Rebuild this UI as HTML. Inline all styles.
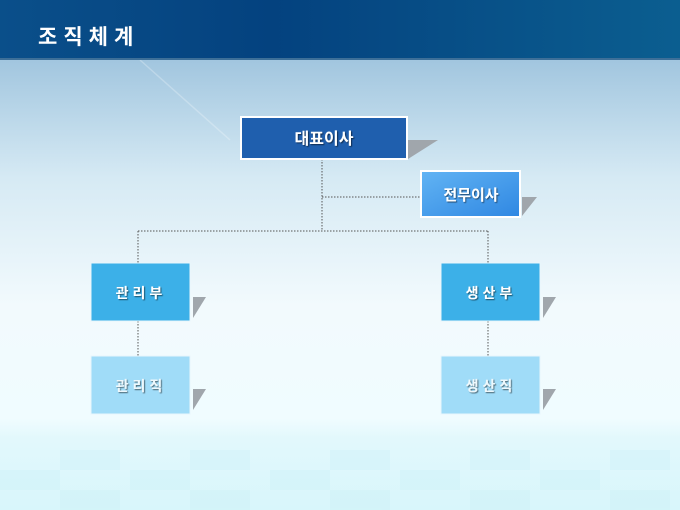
<!DOCTYPE html>
<html><head><meta charset="utf-8"><style>
html,body{margin:0;padding:0}
body{width:680px;height:510px;overflow:hidden;position:relative;font-family:"Liberation Sans","Noto Sans CJK KR",sans-serif}
</style></head><body>
<svg width="680" height="510" viewBox="0 0 680 510" xmlns="http://www.w3.org/2000/svg" style="position:absolute;left:0;top:0">
<defs>
<linearGradient id="bg" x1="0" y1="0" x2="0" y2="1">
<stop offset="0" stop-color="#86aed0"/>
<stop offset="0.12" stop-color="#a2c6df"/>
<stop offset="0.35" stop-color="#d6eaf4"/>
<stop offset="0.6" stop-color="#f2fafd"/>
<stop offset="0.82" stop-color="#f0fcff"/>
<stop offset="0.86" stop-color="#e2f8fc"/>
<stop offset="1" stop-color="#d8f6fb"/>
</linearGradient>
<linearGradient id="hd" x1="0" y1="0" x2="1" y2="0">
<stop offset="0" stop-color="#0a4f8a"/>
<stop offset="0.4" stop-color="#04427f"/>
<stop offset="1" stop-color="#0b5e90"/>
</linearGradient>
<linearGradient id="jm" x1="0" y1="0" x2="1" y2="1">
<stop offset="0" stop-color="#62b4f4"/>
<stop offset="1" stop-color="#2f87e2"/>
</linearGradient>
<filter id="ts"><feDropShadow dx="1" dy="1" stdDeviation="0.6" flood-color="#000" flood-opacity="0.55"/></filter>
</defs>
<rect width="680" height="510" fill="url(#bg)"/>
<g fill="#c8eef6" opacity="0.3">
<rect x="60" y="450" width="60" height="20"/><rect x="190" y="450" width="60" height="20"/><rect x="330" y="450" width="60" height="20"/><rect x="470" y="450" width="60" height="20"/><rect x="610" y="450" width="60" height="20"/>
<rect x="0" y="470" width="60" height="20"/><rect x="130" y="470" width="60" height="20"/><rect x="270" y="470" width="60" height="20"/><rect x="400" y="470" width="60" height="20"/><rect x="540" y="470" width="60" height="20"/>
<rect x="60" y="490" width="60" height="20"/><rect x="190" y="490" width="60" height="20"/><rect x="330" y="490" width="60" height="20"/><rect x="470" y="490" width="60" height="20"/><rect x="610" y="490" width="60" height="20"/>
</g>
<line x1="140" y1="60" x2="230" y2="140" stroke="#ffffff" stroke-opacity="0.25" stroke-width="1.5"/>
<rect width="680" height="58" fill="url(#hd)"/>
<rect y="58" width="680" height="2" fill="#3d6f98"/>
<text x="38" y="44" font-size="21" font-weight="bold" fill="#fff" letter-spacing="6">조직체계</text>

<g stroke="#555" stroke-width="1" stroke-dasharray="1.5,1.5" fill="none">
<line x1="322" y1="159" x2="322" y2="231"/>
<line x1="322" y1="197" x2="420" y2="197"/>
<line x1="138" y1="231" x2="488" y2="231"/>
<line x1="138" y1="231" x2="138" y2="263"/>
<line x1="488" y1="231" x2="488" y2="263"/>
<line x1="138" y1="321" x2="138" y2="356"/>
<line x1="488" y1="321" x2="488" y2="356"/>
</g>

<g fill="#a0a6ac">
<polygon points="408,140 438,140 408,159"/>
<polygon points="522,197 537,197 522,216"/>
<polygon points="193,297 206,297 193,318"/>
<polygon points="193,389 206,389 193,410"/>
<polygon points="543,297 556,297 543,318"/>
<polygon points="543,389 556,389 543,410"/>
</g>

<rect x="241" y="117" width="166" height="42" fill="#1f5fae" stroke="#fff" stroke-width="2"/>
<rect x="421" y="171" width="99" height="46" fill="url(#jm)" stroke="#fff" stroke-width="2"/>
<rect x="91" y="263" width="99" height="58" fill="#3cb0e8" stroke="#e8f6fc" stroke-width="1"/>
<rect x="441" y="263" width="99" height="58" fill="#3cb0e8" stroke="#e8f6fc" stroke-width="1"/>
<rect x="91" y="356" width="99" height="58" fill="#a0dcf8" stroke="#e8f6fc" stroke-width="1"/>
<rect x="441" y="356" width="99" height="58" fill="#a0dcf8" stroke="#e8f6fc" stroke-width="1"/>

<g fill="#fff" font-weight="bold" text-anchor="middle" filter="url(#ts)">
<text x="324" y="144" font-size="16">대표이사</text>
<text x="471" y="200" font-size="15">전무이사</text>
<text x="141" y="298" font-size="14" letter-spacing="4">관리부</text>
<text x="491" y="298" font-size="14" letter-spacing="4">생산부</text>
<text x="141" y="391" font-size="14" letter-spacing="4" fill="#eef8fc">관리직</text>
<text x="491" y="391" font-size="14" letter-spacing="4" fill="#eef8fc">생산직</text>
</g>
</svg>
</body></html>
